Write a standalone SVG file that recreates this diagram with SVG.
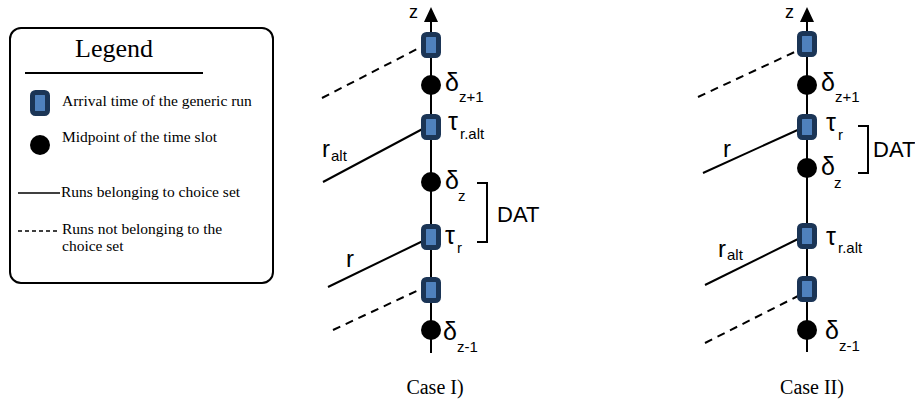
<svg xmlns="http://www.w3.org/2000/svg" width="915" height="403" viewBox="0 0 915 403">
  <style>
    .serif { font-family: "Liberation Serif", "Times New Roman", serif; fill: #000; }
    .sans { font-family: "Liberation Sans", Arial, sans-serif; fill: #000; }
    .sym { font-size: 25px; }
    .sub { font-size: 15px; }
    .lbl { font-size: 24px; }
    .leg { font-size: 15.5px; }
    .axis { stroke: #000; stroke-width: 2; fill: none; }
    .run { stroke: #000; stroke-width: 2; fill: none; }
    .dash { stroke-dasharray: 8 6; }
    .arrival { fill: #4f81bd; stroke: #1b3556; stroke-width: 5; }
    .mid { fill: #000; }
  </style>
  <defs>
    <rect id="arr" x="-7.5" y="-10.5" width="15" height="21" rx="3" class="arrival"/>
    <circle id="dot" r="10" class="mid"/>
  </defs>

  <rect width="915" height="403" fill="#fff"/>

  <!-- Legend -->
  <g id="legend">
    <rect x="10" y="28" width="263" height="255" rx="11" fill="#fff" stroke="#000" stroke-width="2"/>
    <text x="114" y="57" class="serif" font-size="26" text-anchor="middle">Legend</text>
    <line x1="25" y1="73" x2="203" y2="73" stroke="#000" stroke-width="2"/>
    <use href="#arr" x="40" y="103"/>
    <text x="62" y="106" class="serif leg">Arrival time of the generic run</text>
    <use href="#dot" x="40" y="145"/>
    <text x="62" y="142" class="serif leg">Midpoint of the time slot</text>
    <line x1="18" y1="193" x2="60" y2="193" stroke="#000" stroke-width="1.5"/>
    <text x="61" y="197" class="serif leg">Runs belonging to choice set</text>
    <line x1="18" y1="231" x2="60" y2="231" stroke="#000" stroke-width="1.5" stroke-dasharray="4 3"/>
    <text x="62" y="234" class="serif leg">Runs not belonging to the</text>
    <text x="62" y="251" class="serif leg">choice set</text>
  </g>

  <!-- Connectors: axes, run lines, DAT brackets -->
  <g id="connectors">
    <line x1="431" y1="20" x2="431" y2="353" class="axis"/>
    <path d="M431,7 L438,22 L424,22 Z" fill="#000"/>
    <line x1="322" y1="98" x2="423" y2="46" class="run dash"/>
    <line x1="323" y1="182" x2="430" y2="125" class="run"/>
    <line x1="328" y1="287" x2="427" y2="239" class="run"/>
    <line x1="333" y1="330" x2="423" y2="288" class="run dash"/>
    <path d="M477,183 H487 V242 H477" class="run"/>

    <line x1="807" y1="20" x2="807" y2="352" class="axis"/>
    <path d="M807,7 L814,22 L800,22 Z" fill="#000"/>
    <line x1="698" y1="97" x2="799" y2="50" class="run dash"/>
    <line x1="703" y1="173" x2="802" y2="128" class="run"/>
    <line x1="705" y1="285" x2="800" y2="238" class="run"/>
    <line x1="705" y1="343" x2="798" y2="296" class="run dash"/>
    <path d="M858,126 H868 V173 H858" class="run"/>
  </g>

  <!-- Case I -->
  <g id="case1-nodes">
    <use href="#arr" x="431" y="45"/>
    <use href="#dot" x="431" y="85"/>
    <use href="#arr" x="431" y="127"/>
    <use href="#dot" x="431" y="182"/>
    <use href="#arr" x="431" y="237"/>
    <use href="#arr" x="431" y="290"/>
    <use href="#dot" x="431" y="330"/>
  </g>
  <g id="case1-labels">
    <text x="409" y="18" class="sans" font-size="18">z</text>
    <text x="445" y="91" class="sans sym">δ</text>
    <text x="459" y="102" class="sans sub">z+1</text>
    <text x="448" y="130" class="sans sym">τ</text>
    <text x="460" y="139" class="sans sub">r.alt</text>
    <text x="322" y="157" class="sans lbl">r</text>
    <text x="331" y="161" class="sans sub">alt</text>
    <text x="445" y="189" class="sans sym">δ</text>
    <text x="458" y="201" class="sans sub">z</text>
    <text x="497" y="222" class="sans" font-size="22">DAT</text>
    <text x="445" y="244" class="sans sym">τ</text>
    <text x="457" y="253" class="sans sub">r</text>
    <text x="346" y="267" class="sans lbl">r</text>
    <text x="443" y="340" class="sans sym">δ</text>
    <text x="457" y="352" class="sans sub">z-1</text>
    <text x="435" y="394" class="serif" font-size="20" text-anchor="middle">Case I)</text>
  </g>

  <!-- Case II -->
  <g id="case2-nodes">
    <use href="#arr" x="807" y="44"/>
    <use href="#dot" x="807" y="85"/>
    <use href="#arr" x="807" y="127"/>
    <use href="#dot" x="807" y="168"/>
    <use href="#arr" x="807" y="236"/>
    <use href="#arr" x="807" y="289"/>
    <use href="#dot" x="807" y="330"/>
  </g>
  <g id="case2-labels">
    <text x="785" y="18" class="sans" font-size="18">z</text>
    <text x="821" y="91" class="sans sym">δ</text>
    <text x="835" y="102" class="sans sub">z+1</text>
    <text x="826" y="131" class="sans sym">τ</text>
    <text x="838" y="140" class="sans sub">r</text>
    <text x="723" y="157" class="sans lbl">r</text>
    <text x="821" y="175" class="sans sym">δ</text>
    <text x="834" y="188" class="sans sub">z</text>
    <text x="873" y="157" class="sans" font-size="22">DAT</text>
    <text x="718" y="257" class="sans lbl">r</text>
    <text x="727" y="260" class="sans sub">alt</text>
    <text x="826" y="245" class="sans sym">τ</text>
    <text x="838" y="253" class="sans sub">r.alt</text>
    <text x="825" y="339" class="sans sym">δ</text>
    <text x="839" y="351" class="sans sub">z-1</text>
    <text x="812" y="394" class="serif" font-size="20" text-anchor="middle">Case II)</text>
  </g>
</svg>
